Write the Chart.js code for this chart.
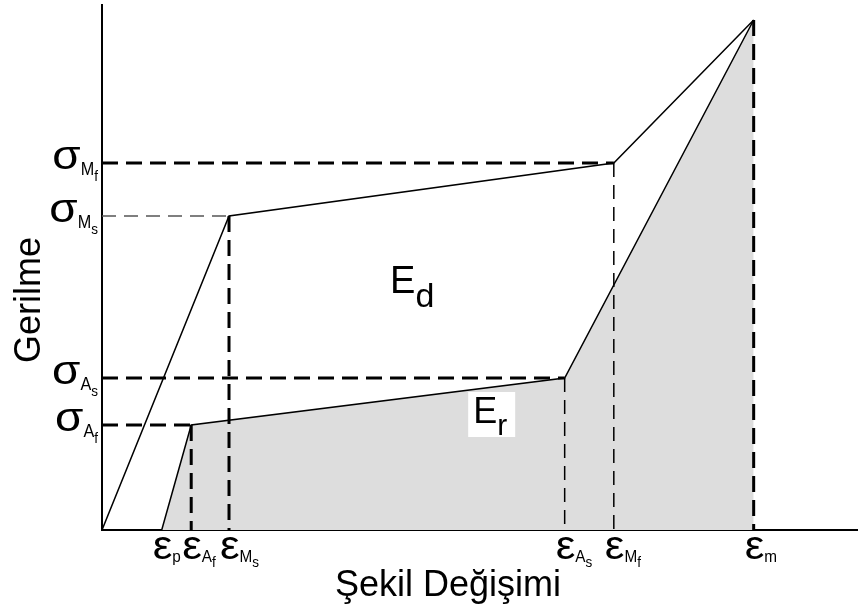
<!DOCTYPE html>
<html>
<head>
<meta charset="utf-8">
<script src="https://cdn.jsdelivr.net/npm/chart.js@4"></script>
<style>
  body { margin: 0; background: #fff; }
  #wrap { width: 858px; height: 611px; }
</style>
</head>
<body>
<div id="wrap"><canvas id="grafica" width="858" height="611"></canvas></div>
<script>
// deformation (x) and stress (y) values of the cycle
var strainTicks = [7.9, 11.8, 16.8, 61.2, 67.7, 86.2];   // εp, εAf, εMs, εAs, εMf, εm
var strainSub = ['p', 'A', 'M', 'A', 'M', 'm'];
var strainSub2 = ['', 'f', 's', 's', 'f', ''];
var stressTicks = [73.4, 62.8, 30.4, 21.0];               // σMf, σMs, σAs, σAf
var stressSub = ['M', 'M', 'A', 'A'];
var stressSub2 = ['f', 's', 's', 'f'];
var stressMax = 102;

var epsP = strainTicks[0], epsAf = strainTicks[1], epsMs = strainTicks[2];
var epsAs = strainTicks[3], epsMf = strainTicks[4], epsM = strainTicks[5];
var sigMf = stressTicks[0], sigMs = stressTicks[1], sigAs = stressTicks[2], sigAf = stressTicks[3];

// loading and unloading paths
var loadX = [0, epsMs, epsMf, epsM];
var loadY = [0, sigMs, sigMf, stressMax];
var unloadX = [epsP, epsAf, epsAs, epsM];
var unloadY = [0, sigAf, sigAs, stressMax];

function pts(xs, ys) {
  var out = [];
  for (var i = 0; i < xs.length; i++) out.push({ x: xs[i], y: ys[i] });
  return out;
}

function guide(points, thick, color) {
  return {
    data: points,
    showLine: true,
    pointRadius: 0,
    borderColor: color || '#000',
    borderWidth: thick ? 3 : 1.5,
    borderDash: thick ? [16, 8] : [14, 8],
    fill: false,
    order: 1
  };
}

var font = '"Liberation Sans", Arial, sans-serif';

// parts: [text, size, baseline offset, horizontal stretch]
function drawParts(ctx, parts, x, y, align) {
  var total = 0;
  parts.forEach(function(p) {
    if (!p[0]) return;
    ctx.font = p[1] + 'px ' + font;
    p.w = ctx.measureText(p[0]).width * (p[3] || 1);
    total += p.w;
  });
  var cx = align === 'right' ? x - total : x;
  parts.forEach(function(p) {
    if (!p[0]) return;
    ctx.font = p[1] + 'px ' + font;
    ctx.save();
    ctx.translate(cx, y + p[2]);
    ctx.scale(p[3] || 1, 1);
    ctx.fillText(p[0], 0, 0);
    ctx.restore();
    cx += p.w;
  });
}

var labelPlugin = {
  id: 'etiketler',
  afterDatasetsDraw: function(chart) {
    var ctx = chart.ctx, xs = chart.scales.x, ys = chart.scales.y, area = chart.chartArea;
    ctx.save();
    ctx.fillStyle = '#000';
    ctx.textAlign = 'left';
    ctx.textBaseline = 'alphabetic';

    // σ labels along the stress axis
    for (var i = 0; i < stressTicks.length; i++) {
      var py = ys.getPixelForValue(stressTicks[i]);
      drawParts(ctx, [['σ', 40, 6, 1.15], [stressSub[i], 18, 12, 0.9], [stressSub2[i], 15, 18, 0.9]], area.left - 4, py, 'right');
    }
    // ε labels under the strain axis
    for (var j = 0; j < strainTicks.length; j++) {
      var px = xs.getPixelForValue(strainTicks[j]);
      drawParts(ctx, [['ε', 40, 0, 1.1], [strainSub[j], 17, 3, 0.9], [strainSub2[j], 15, 8, 0.9]], px - 9, area.bottom + 29, 'left');
    }

    // E_d
    var dx = xs.getPixelForValue(38.1), dy = ys.getPixelForValue(47.4);
    drawParts(ctx, [['E', 38, 0], ['d', 34, 14]], dx, dy, 'left');

    // E_r with white box
    var rx = xs.getPixelForValue(49.1), ry = ys.getPixelForValue(21.4);
    ctx.fillStyle = '#fff';
    ctx.fillRect(rx - 5, ry - 31, 47, 45);
    ctx.fillStyle = '#000';
    drawParts(ctx, [['E', 36, 0], ['r', 30, 12]], rx, ry, 'left');

    // axis titles
    ctx.font = '36px ' + font;
    ctx.textAlign = 'center';
    ctx.fillText('Şekil Değişimi', 448, 596);
    ctx.translate(40, 300);
    ctx.rotate(-Math.PI / 2);
    ctx.fillText('Gerilme', 0, 0);
    ctx.restore();
  }
};

var ctx = document.getElementById('grafica').getContext('2d');
var chart = new Chart(ctx, {
  type: 'scatter',
  data: {
    datasets: [
      // shaded area under the unloading path
      {
        data: pts(unloadX, unloadY),
        showLine: true,
        pointRadius: 0,
        borderColor: '#000',
        borderWidth: 1.5,
        backgroundColor: '#dddddd',
        fill: 'origin',
        order: 5
      },
      {
        data: pts(loadX, loadY),
        showLine: true,
        pointRadius: 0,
        borderColor: '#000',
        borderWidth: 1.5,
        fill: false,
        order: 2
      },
      // horizontal guides
      guide(pts([0, epsMf], [sigMf, sigMf]), true),
      guide(pts([0, epsMs], [sigMs, sigMs]), false, '#555'),
      guide(pts([0, epsAs], [sigAs, sigAs]), true),
      guide(pts([0, epsAf], [sigAf, sigAf]), true),
      // vertical guides
      guide(pts([epsAf, epsAf], [sigAf, 0]), true),
      guide(pts([epsMs, epsMs], [sigMs, 0]), true),
      guide(pts([epsAs, epsAs], [sigAs, 0]), false),
      guide(pts([epsMf, epsMf], [sigMf, 0]), false),
      guide(pts([epsM, epsM], [stressMax, 0]), true)
    ]
  },
  options: {
    responsive: false,
    animation: false,
    layout: { padding: { left: 102, right: 0, top: 5, bottom: 81 } },
    plugins: { legend: { display: false }, tooltip: { enabled: false } },
    scales: {
      x: {
        type: 'linear', min: 0, max: 100,
        ticks: { display: false },
        grid: { display: false, drawTicks: false },
        border: { display: true, color: '#000', width: 2 }
      },
      y: {
        type: 'linear', min: 0, max: 105,
        ticks: { display: false },
        grid: { display: false, drawTicks: false },
        border: { display: true, color: '#000', width: 2 }
      }
    }
  },
  plugins: [labelPlugin]
});
</script>
</body>
</html>
